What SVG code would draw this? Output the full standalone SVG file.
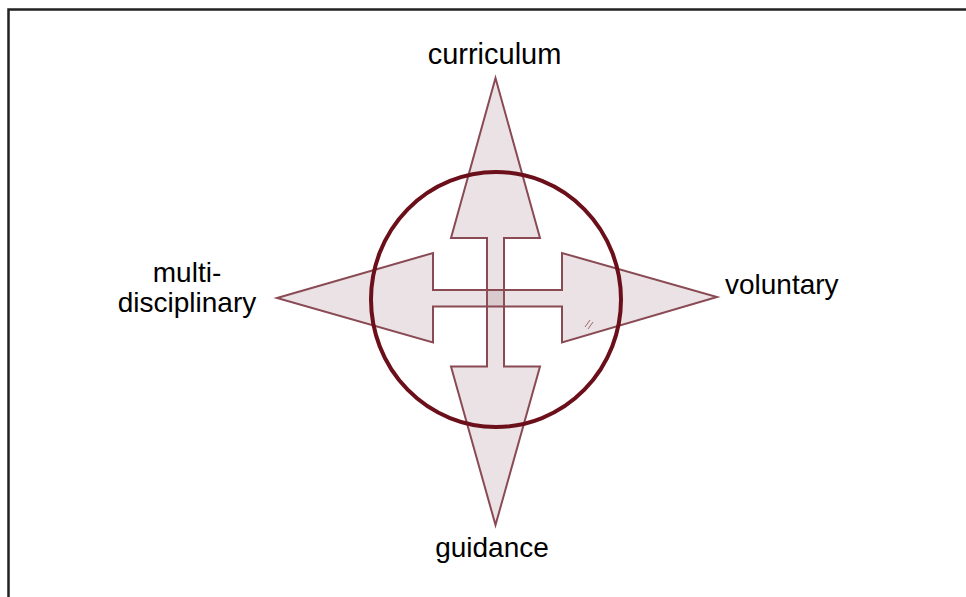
<svg xmlns="http://www.w3.org/2000/svg" width="966" height="597" viewBox="0 0 966 597">
  <style>
    .lbl { font-family: "Liberation Sans", Arial, sans-serif; font-size: 28px; fill: #000; }
    .arrow { fill: #906670; fill-opacity: 0.19; stroke: #8a4a54; stroke-width: 2; stroke-linejoin: miter; }
    .ring { fill: none; stroke: #6b0f1a; stroke-width: 4; }
  </style>
  <rect x="0" y="0" width="966" height="597" fill="#fff"/>
  <path d="M8.5 620 V9.5 H980" fill="none" stroke="#222" stroke-width="2.5"/>
  <g id="connectors">
    <polygon id="arrow-vertical" class="arrow" points="495.5,78 540,238 504,238 504,366.5 540,366.5 495.5,525 451,366.5 487,366.5 487,238 451,238"/>
    <polygon id="arrow-horizontal" class="arrow" points="277,298 433,253 433,290 562,290 562,253 717,297 562,342.5 562,306.5 433,306.5 433,342.5"/>
    <g stroke="#8a4a54" stroke-width="1" opacity="0.8">
      <line x1="585" y1="327" x2="590" y2="320"/>
      <line x1="588" y1="329" x2="593" y2="322"/>
    </g>
  </g>
  <g id="circle">
    <ellipse class="ring" cx="496" cy="299.5" rx="125" ry="127.5"/>
  </g>
  <g id="curriculum">
    <text class="lbl" x="494.5" y="63.5" text-anchor="middle" style="font-size:29px">curriculum</text>
  </g>
  <g id="voluntary">
    <text class="lbl" x="725" y="293.5">voluntary</text>
  </g>
  <g id="multidisciplinary">
    <text class="lbl" x="187" y="281.5" text-anchor="middle">multi-</text>
    <text class="lbl" x="187" y="311.5" text-anchor="middle">disciplinary</text>
  </g>
  <g id="guidance">
    <text class="lbl" x="492" y="556.5" text-anchor="middle">guidance</text>
  </g>
</svg>
